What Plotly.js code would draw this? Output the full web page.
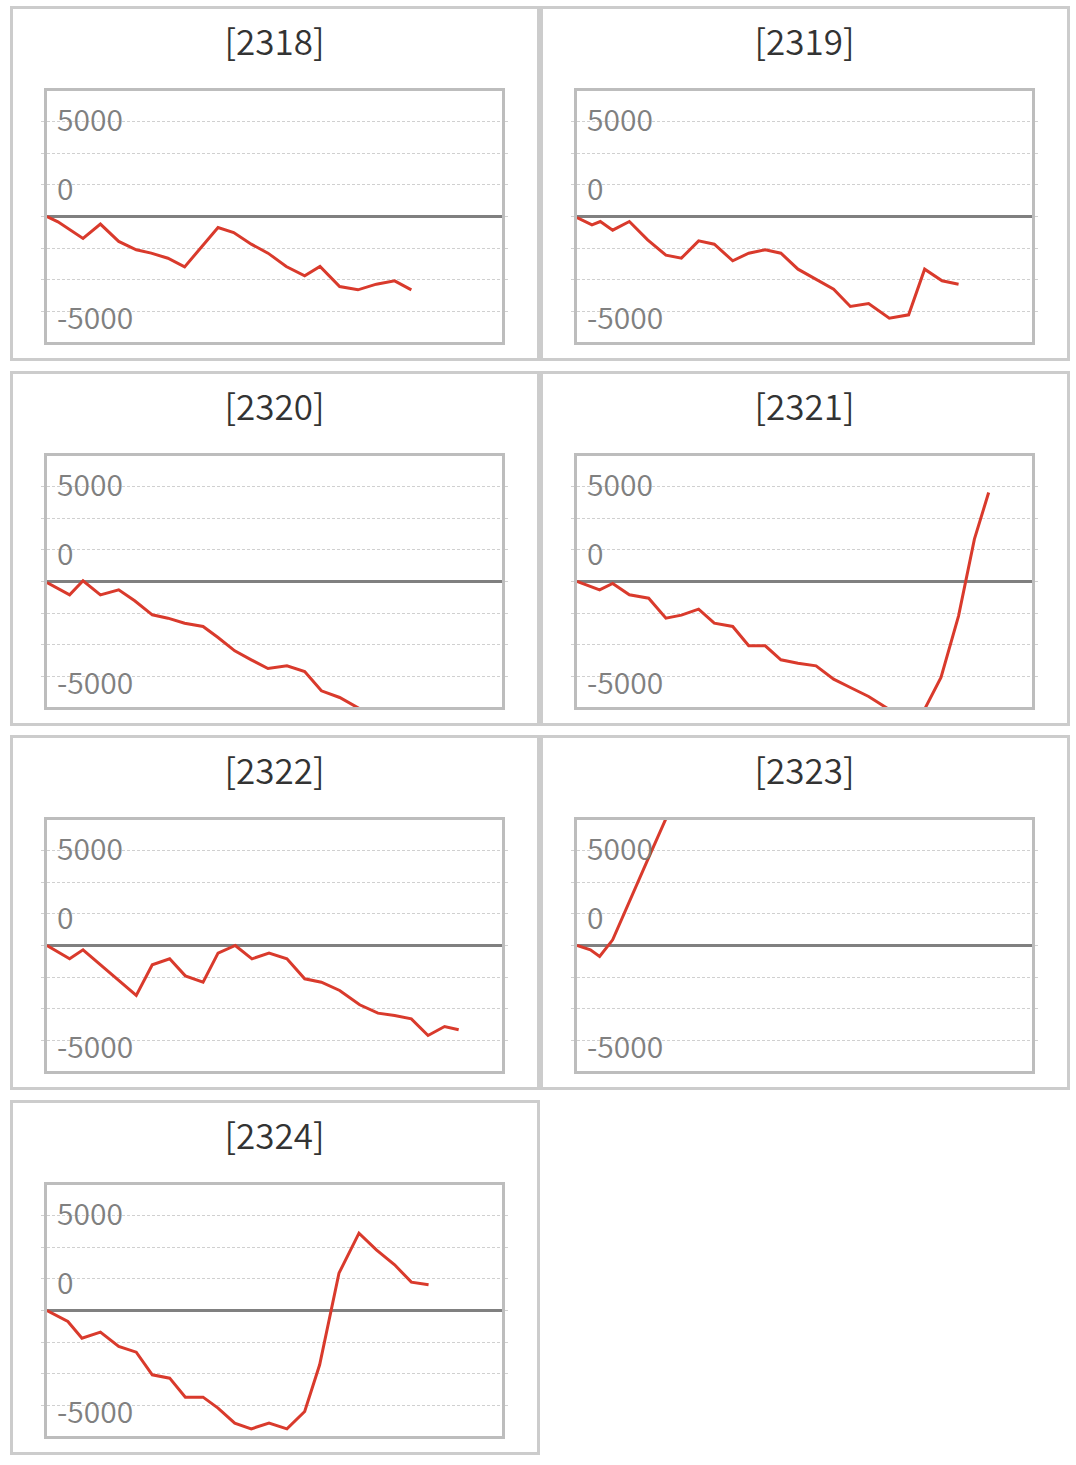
<!DOCTYPE html>
<html>
<head>
<meta charset="utf-8">
<script src="https://cdn.plot.ly/plotly-3.0.1.min.js"></script>
<style>
  body { margin: 0; background: #fff; }
  .cell { position: absolute; width: 530px; height: 355px; border: 3px solid #cccccc; box-sizing: border-box; background: #fff; }
  .cell .plot { width: 524px; height: 349px; }
</style>
</head>
<body>
<div id="wrap"></div>
<script>
// codes shown in each panel title
const codes = ['2318', '2319', '2320', '2321', '2322', '2323', '2324'];

// series values (x = day step, y = value)
const x2318 = [0, 0.63, 2.07, 3.07, 4.12, 5.13, 5.99, 6.95, 7.91, 9.83, 10.73, 11.74, 12.7, 13.75, 14.81, 15.69, 16.82, 17.87, 18.93, 19.98, 20.94];
const y2318 = [0, -280, -1155, -400, -1310, -1750, -1925, -2190, -2645, -578, -840, -1453, -1925, -2625, -3115, -2625, -3675, -3850, -3553, -3378, -3850];

const x2319 = [0, 0.86, 1.34, 2.05, 3.01, 4.06, 5.11, 6.0, 6.99, 7.89, 8.95, 9.87, 10.82, 11.72, 12.7, 13.74, 14.75, 15.71, 16.76, 17.95, 19.06, 19.98, 20.98, 21.93];
const y2319 = [-53, -438, -263, -718, -263, -1225, -2030, -2188, -1278, -1453, -2328, -1925, -1750, -1925, -2765, -3290, -3815, -4725, -4568, -5338, -5163, -2765, -3378, -3553];

const x2320 = [0, 1.3, 2.07, 3.07, 4.12, 5.04, 6.05, 6.95, 7.91, 8.97, 9.83, 10.79, 11.74, 12.7, 13.79, 14.81, 15.77, 16.82, 18.83];
const y2320 = [-53, -700, 35, -700, -438, -1015, -1750, -1925, -2188, -2363, -2940, -3640, -4113, -4568, -4428, -4725, -5740, -6090, -7123];

const x2321 = [0, 1.3, 2.05, 3.01, 4.12, 5.11, 6.0, 6.99, 7.89, 8.95, 9.87, 10.82, 11.72, 12.7, 13.74, 14.75, 15.71, 16.76, 17.91, 18.97, 19.98, 20.92, 21.93, 22.84, 23.66];
const y2321 = [0, -438, -105, -700, -875, -1925, -1768, -1453, -2188, -2363, -3378, -3378, -4113, -4288, -4428, -5128, -5565, -6038, -6703, -7053, -6703, -5040, -1803, 2223, 4673];

const x2322 = [0, 1.3, 2.07, 5.13, 6.05, 7.05, 7.95, 8.97, 9.83, 10.82, 11.78, 12.76, 13.79, 14.81, 15.77, 16.82, 17.97, 19.02, 19.98, 20.94, 21.9, 22.85, 23.66];
const y2322 = [0, -700, -228, -2625, -1015, -700, -1593, -1925, -403, 0, -700, -403, -700, -1750, -1925, -2363, -3115, -3553, -3675, -3850, -4725, -4253, -4428];

const x2323 = [0, 0.77, 1.3, 2.05, 4.06, 6.11];
const y2323 = [0, -228, -578, 298, 4498, 8715];

const x2324 = [0, 0.63, 1.2, 2.01, 3.07, 4.12, 5.13, 6.05, 7.05, 7.95, 8.97, 9.83, 10.79, 11.74, 12.76, 13.79, 14.81, 15.67, 16.78, 17.93, 18.93, 19.98, 20.94, 21.93];
const y2324 = [0, -315, -578, -1453, -1138, -1890, -2188, -3378, -3553, -4550, -4550, -5128, -5915, -6213, -5915, -6213, -5303, -2853, 1960, 4060, 3185, 2398, 1488, 1348];

// y axis label texts
const yLabels = ['5000', '0', '-5000'];

const seriesX = [x2318, x2319, x2320, x2321, x2322, x2323, x2324];
const seriesY = [y2318, y2319, y2320, y2321, y2322, y2323, y2324];

const FONT = '"Noto Sans CJK JP", "Noto Sans", sans-serif';
const labelAt = [5180, 1530, -5200];   // where the labels sit on the value axis

function draw_panel(container, i) {
    let trace = {
        x: seriesX[i],
        y: seriesY[i],
        type: 'scatter',
        mode: 'lines',
        line: {color: '#d93a2c', width: 3},
        hoverinfo: 'skip'
    };

    let notes = [];
    for (let k = 0; k < yLabels.length; k++) {
        notes.push({
            text: yLabels[k],
            xref: 'paper', x: 0, xanchor: 'left', xshift: 8,
            yref: 'y', y: labelAt[k], yanchor: 'middle',
            showarrow: false,
            font: {family: FONT, size: 30, weight: 350, color: '#808080'}
        });
    }

    let layout = {
        width: 524,
        height: 349,
        margin: {l: 34, r: 35, t: 82, b: 16, pad: 0},
        paper_bgcolor: '#fff',
        plot_bgcolor: '#fff',
        showlegend: false,
        title: {
            text: '[' + codes[i] + ']',
            x: 0.5, xref: 'paper', xanchor: 'center',
            y: 1 - 34 / 349, yref: 'container', yanchor: 'middle',
            font: {family: FONT, size: 35, weight: 350, color: '#333333'}
        },
        xaxis: {
            range: [0, 26.15],
            showgrid: false, zeroline: false, showticklabels: false, ticks: '',
            showline: true, mirror: true, linecolor: '#bdbdbd', linewidth: 2.7
        },
        yaxis: {
            range: [-6590, 6590],
            tick0: 0, dtick: 1666.667,
            showgrid: true, gridcolor: '#d0d0d0', gridwidth: 1, griddash: '3px,2px',
            zeroline: true, zerolinecolor: '#808080', zerolinewidth: 2.7,
            showline: true, mirror: 'ticks', linecolor: '#bdbdbd', linewidth: 2.7,
            ticks: 'outside', ticklen: 3, tickwidth: 1, tickcolor: '#d0d0d0',
            showticklabels: false
        },
        annotations: notes
    };

    Plotly.newPlot(container, [trace], layout, {displayModeBar: false, staticPlot: true});
}

let wrap = document.getElementById('wrap');
for (let i = 0; i < codes.length; i++) {
    let col = i % 2;
    let row = Math.floor(i / 2);
    let cell = document.createElement('div');
    cell.className = 'cell';
    cell.style.left = (10 + col * 530) + 'px';
    cell.style.top = Math.round(6 + row * 364.7) + 'px';
    let plot = document.createElement('div');
    plot.className = 'plot';
    cell.appendChild(plot);
    wrap.appendChild(cell);
    draw_panel(plot, i);
}
</script>
</body>
</html>
